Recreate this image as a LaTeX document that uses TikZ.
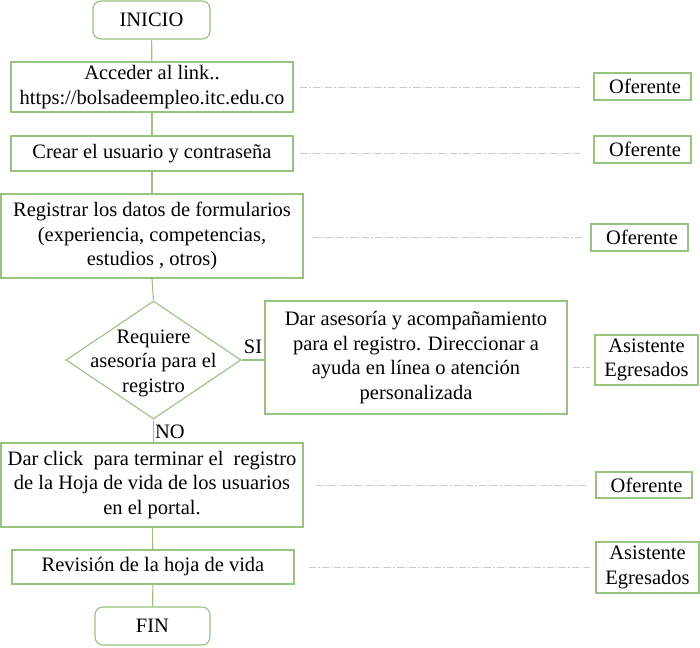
\documentclass[tikz,border=0pt]{standalone}
\usepackage{fontspec}
\setmainfont{Liberation Serif}
\newfontfamily\diagfont{Liberation Serif}
\usetikzlibrary{shapes.geometric}
\definecolor{boxgreen}{RGB}{150,195,125}
\definecolor{dashgray}{RGB}{195,205,190}
\tikzset{
  base/.style={draw=boxgreen, line width=1.1pt, align=center, inner sep=0pt, font=\diagfont\fontsize{20.5}{24.5}\selectfont},
  procbox/.style={base, rectangle},
  termbox/.style={base, rectangle, rounded corners=8pt},
  rolebox/.style={base, rectangle},
  decision/.style={draw=boxgreen, line width=1.1pt, diamond, inner sep=0pt},
  txt/.style={align=center, inner sep=0pt, font=\diagfont\fontsize{20.5}{24.5}\selectfont},
  conn/.style={draw=boxgreen, line width=1.1pt},
  roleline/.style={draw=dashgray, line width=0.8pt, dash pattern=on 7pt off 2pt on 1.5pt off 2pt}
}
\begin{document}
\begin{tikzpicture}[x=1pt,y=-1pt]
\useasboundingbox (0,0) rectangle (700,647);
% main flow
\node[termbox, minimum width=117pt, minimum height=38pt] (ini) at (151.5,20) {INICIO};
\node[procbox, minimum width=282pt, minimum height=50pt] (acc) at (152,87) {Acceder al link..\\https://bolsadeempleo.itc.edu.co};
\node[procbox, minimum width=282pt, minimum height=35pt] (cre) at (152,153.5) {Crear el usuario y contraseña};
\node[procbox, minimum width=302pt, minimum height=84pt] (reg) at (152,236) {Registrar los datos de formularios\\(experiencia, competencias,\\estudios , otros)};
\node[decision, minimum width=175pt, minimum height=118pt] (dec) at (153.5,360) {};
\node[txt] (dectxt) at (153.5,363) {Requiere\\asesoría para el\\registro};
\node[procbox, minimum width=302pt, minimum height=113pt] (ase) at (416,357.5) {Dar asesoría y acompañamiento\\para el registro. Direccionar a\\ayuda en línea o atención\\personalizada};
\node[procbox, minimum width=302pt, minimum height=84pt] (clk) at (152,485) {Dar click\ \ para terminar el\ \ registro\\de la Hoja de vida de los usuarios\\en el portal.};
\node[procbox, minimum width=282pt, minimum height=34pt] (rev) at (153,567) {Revisión de la hoja de vida};
\node[termbox, minimum width=115pt, minimum height=38pt] (fin) at (152.5,626) {FIN};
% labels
\node[txt] (si) at (253,347) {SI};
\node[txt] (no) at (170,432) {NO};
% role boxes
\node[rolebox, minimum width=97pt, minimum height=27pt] (r1) at (642.5,86.5) {\ Oferente};
\node[rolebox, minimum width=97pt, minimum height=27pt] (r2) at (642.5,149.5) {\ Oferente};
\node[rolebox, minimum width=97pt, minimum height=27pt] (r3) at (639.5,237.5) {\ Oferente};
\node[rolebox, minimum width=103pt, minimum height=50pt] (r4) at (646.5,360) {Asistente\\Egresados};
\node[rolebox, minimum width=96pt, minimum height=26pt] (r5) at (644,485) {\ Oferente};
\node[rolebox, minimum width=103pt, minimum height=51pt] (r6) at (647.5,567.5) {Asistente\\Egresados};
% connectors
\draw[conn] (ini) -- (acc);
\draw[conn] (acc) -- (cre);
\draw[conn] (cre.south -| reg.north) -- (reg);
\draw[conn] (reg.south) -- (dec.north);
\draw[conn] (dec.east) -- (ase.west |- dec.east);
\draw[conn] (dec.south) -- (clk.north -| dec.south);
\draw[conn] (clk) -- (rev);
\draw[conn] (rev) -- (fin);
% role lines
\coordinate (l1a) at (300,87); \coordinate (l1b) at (580,87);
\coordinate (l2a) at (300,153); \coordinate (l2b) at (580,153);
\coordinate (l3a) at (312,237); \coordinate (l3b) at (582,237);
\coordinate (l4a) at (573,367); \coordinate (l4b) at (590,367);
\coordinate (l5a) at (316,485); \coordinate (l5b) at (586,485);
\coordinate (l6a) at (309,567); \coordinate (l6b) at (590,567);
\draw[roleline] (l1a) -- (l1b);
\draw[roleline] (l2a) -- (l2b);
\draw[roleline] (l3a) -- (l3b);
\draw[roleline] (l4a) -- (l4b);
\draw[roleline] (l5a) -- (l5b);
\draw[roleline] (l6a) -- (l6b);
\end{tikzpicture}
\end{document}
